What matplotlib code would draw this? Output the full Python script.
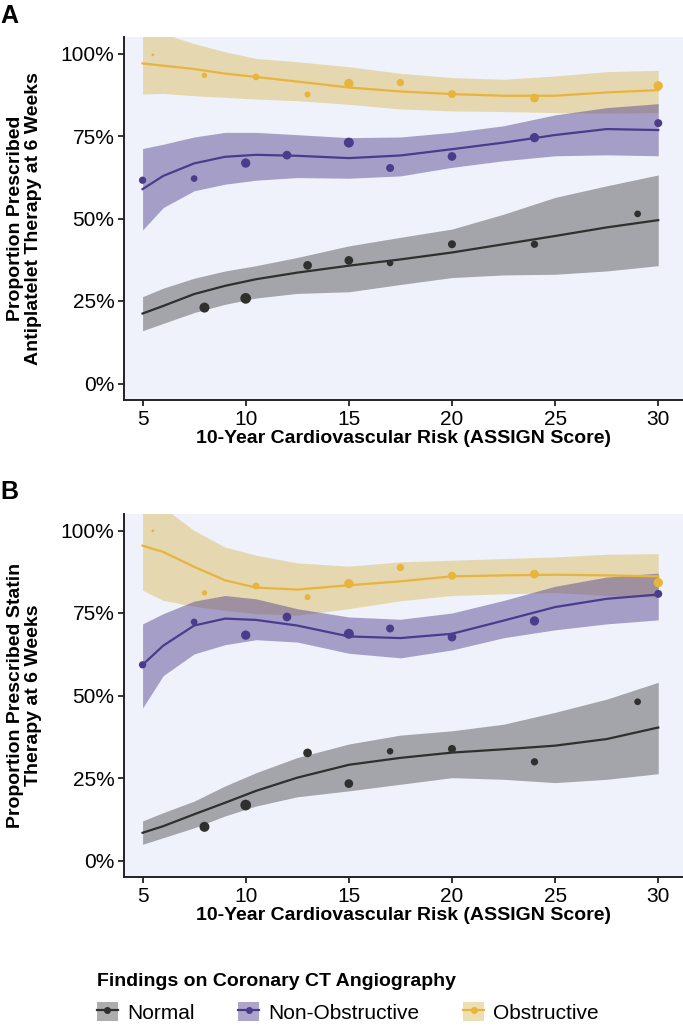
import matplotlib
matplotlib.use("Agg")
import matplotlib.pyplot as plt
from matplotlib.patches import Patch
from matplotlib.lines import Line2D
from matplotlib.ticker import PercentFormatter

plt.rcParams['font.family'] = ['Liberation Sans', 'DejaVu Sans']

# smooth-fit grid (ASSIGN score)
grid = [5, 6, 7.5, 9, 10.5, 12.5, 15, 17.5, 20, 22.5, 25, 27.5, 30]

# observed points: x positions, and marker diameters (px) per group
x_normal = [8, 10, 13, 15, 17, 20, 24, 29]
d_normal = [10, 10.7, 8.7, 8.7, 6.5, 8, 7.3, 6.7]
x_nonobs = [5, 7.5, 10, 12, 15, 17, 20, 24, 30]
d_nonobs = [7.3, 6.7, 9.3, 8.7, 10, 8, 8.7, 9.3, 8]
x_obs = [5.5, 8, 10.5, 13, 15, 17.5, 20, 24, 30]
d_obs = [2.7, 5.3, 6.7, 6, 9.3, 7.3, 8, 8.7, 9.3]

# Panel A: antiplatelet therapy
a_normal_pts = [0.230, 0.258, 0.358, 0.373, 0.365, 0.422, 0.422, 0.514]
a_normal_fit = [0.212, 0.235, 0.271, 0.296, 0.316, 0.336, 0.357, 0.376, 0.397, 0.422, 0.447, 0.473, 0.495]
a_normal_lo = [0.160, 0.182, 0.215, 0.240, 0.259, 0.273, 0.278, 0.300, 0.321, 0.329, 0.331, 0.341, 0.357]
a_normal_hi = [0.263, 0.289, 0.319, 0.341, 0.357, 0.382, 0.417, 0.443, 0.468, 0.513, 0.564, 0.599, 0.632]

a_nonobs_pts = [0.616, 0.621, 0.668, 0.692, 0.730, 0.653, 0.688, 0.745, 0.789]
a_nonobs_fit = [0.589, 0.629, 0.667, 0.687, 0.693, 0.690, 0.683, 0.691, 0.710, 0.730, 0.753, 0.771, 0.768]
a_nonobs_lo = [0.465, 0.533, 0.584, 0.604, 0.616, 0.624, 0.622, 0.629, 0.655, 0.675, 0.690, 0.693, 0.690]
a_nonobs_hi = [0.712, 0.725, 0.747, 0.761, 0.761, 0.754, 0.745, 0.747, 0.761, 0.781, 0.814, 0.836, 0.848]

a_obs_pts = [0.996, 0.934, 0.929, 0.876, 0.909, 0.912, 0.877, 0.865, 0.902]
a_obs_fit = [0.970, 0.963, 0.953, 0.939, 0.929, 0.915, 0.897, 0.885, 0.877, 0.872, 0.872, 0.882, 0.889]
a_obs_lo = [0.877, 0.879, 0.872, 0.867, 0.862, 0.857, 0.846, 0.832, 0.826, 0.824, 0.821, 0.819, 0.821]
a_obs_hi = [1.080, 1.060, 1.030, 1.005, 0.985, 0.975, 0.960, 0.940, 0.927, 0.922, 0.932, 0.945, 0.949]

# Panel B: statin therapy
b_normal_pts = [0.102, 0.168, 0.326, 0.233, 0.331, 0.338, 0.299, 0.481]
b_normal_fit = [0.084, 0.104, 0.140, 0.175, 0.211, 0.251, 0.290, 0.311, 0.327, 0.337, 0.348, 0.368, 0.403]
b_normal_lo = [0.049, 0.069, 0.099, 0.135, 0.165, 0.193, 0.211, 0.231, 0.251, 0.246, 0.236, 0.246, 0.263]
b_normal_hi = [0.120, 0.145, 0.180, 0.226, 0.266, 0.312, 0.353, 0.380, 0.393, 0.413, 0.449, 0.489, 0.540]

b_nonobs_pts = [0.593, 0.723, 0.683, 0.738, 0.687, 0.703, 0.677, 0.726, 0.808]
b_nonobs_fit = [0.593, 0.651, 0.712, 0.733, 0.729, 0.712, 0.679, 0.674, 0.687, 0.727, 0.768, 0.793, 0.806]
b_nonobs_lo = [0.462, 0.560, 0.626, 0.654, 0.669, 0.662, 0.628, 0.614, 0.638, 0.675, 0.699, 0.717, 0.729]
b_nonobs_hi = [0.717, 0.748, 0.786, 0.803, 0.793, 0.763, 0.738, 0.731, 0.750, 0.788, 0.831, 0.859, 0.871]

b_obs_pts = [0.999, 0.811, 0.832, 0.798, 0.839, 0.888, 0.863, 0.868, 0.842]
b_obs_fit = [0.954, 0.935, 0.890, 0.849, 0.827, 0.821, 0.834, 0.846, 0.861, 0.864, 0.866, 0.864, 0.861]
b_obs_lo = [0.819, 0.788, 0.770, 0.758, 0.748, 0.743, 0.763, 0.787, 0.803, 0.808, 0.812, 0.803, 0.798]
b_obs_hi = [1.120, 1.070, 1.000, 0.950, 0.925, 0.902, 0.892, 0.905, 0.910, 0.915, 0.920, 0.928, 0.930]

groups = ['Normal', 'Non-Obstructive', 'Obstructive']
line_colors = {'Normal': '#2f2f2f', 'Non-Obstructive': '#4b3b8b', 'Obstructive': '#e8b43c'}
band_colors = {'Normal': '#333333', 'Non-Obstructive': '#4b3b8b', 'Obstructive': '#dbb856'}
band_alpha = {'Normal': 0.4, 'Non-Obstructive': 0.45, 'Obstructive': 0.45}
bg = '#eff2fa'
dpi = 100


def draw_panel(ax, data, ylabel):
    ax.set_facecolor(bg)
    # ribbons first (non-obstructive lies over obstructive where they meet)
    for g in ['Normal', 'Obstructive', 'Non-Obstructive']:
        xs, d, pts, fit, lo, hi = data[g]
        ax.fill_between(grid, lo, hi, color=band_colors[g], alpha=band_alpha[g],
                        lw=0, zorder=1)
    for g in groups:
        xs, d, pts, fit, lo, hi = data[g]
        ax.plot(grid, fit, color=line_colors[g], lw=1.6, zorder=3)
        s = [(v * 72 / dpi) ** 2 for v in d]
        ax.scatter(xs, pts, s=s, color=line_colors[g], lw=0, zorder=4)
    ax.set_xlim(4.1, 31.2)
    ax.set_ylim(-0.05, 1.05)
    ax.set_xticks([5, 10, 15, 20, 25, 30])
    ax.set_yticks([0, 0.25, 0.5, 0.75, 1.0])
    ax.yaxis.set_major_formatter(PercentFormatter(1.0, decimals=0))
    for sp in ['top', 'right']:
        ax.spines[sp].set_visible(False)
    for sp in ['left', 'bottom']:
        ax.spines[sp].set_linewidth(1.4)
        ax.spines[sp].set_color('#222222')
    ax.tick_params(length=4, width=1.3, color='#222222', labelsize=15, pad=3)
    ax.set_xlabel('10-Year Cardiovascular Risk (ASSIGN Score)',
                  fontsize=14, fontweight='bold', labelpad=1)
    ax.text(-0.178, 0.5, ylabel, transform=ax.transAxes, rotation=90,
            ha='center', va='center', fontsize=14, fontweight='bold',
            linespacing=1.15)


fig = plt.figure(figsize=(6.83, 10.27), dpi=dpi)
ax1 = fig.add_axes([124 / 683, 1 - 400 / 1027, 559 / 683, 363 / 1027])
ax2 = fig.add_axes([124 / 683, 1 - 877 / 1027, 559 / 683, 363 / 1027])

data_a = {
    'Normal': (x_normal, d_normal, a_normal_pts, a_normal_fit, a_normal_lo, a_normal_hi),
    'Non-Obstructive': (x_nonobs, d_nonobs, a_nonobs_pts, a_nonobs_fit, a_nonobs_lo, a_nonobs_hi),
    'Obstructive': (x_obs, d_obs, a_obs_pts, a_obs_fit, a_obs_lo, a_obs_hi),
}
data_b = {
    'Normal': (x_normal, d_normal, b_normal_pts, b_normal_fit, b_normal_lo, b_normal_hi),
    'Non-Obstructive': (x_nonobs, d_nonobs, b_nonobs_pts, b_nonobs_fit, b_nonobs_lo, b_nonobs_hi),
    'Obstructive': (x_obs, d_obs, b_obs_pts, b_obs_fit, b_obs_lo, b_obs_hi),
}

draw_panel(ax1, data_a, 'Proportion Prescribed\nAntiplatelet Therapy at 6 Weeks')
draw_panel(ax2, data_b, 'Proportion Prescribed Statin\nTherapy at 6 Weeks')

fig.text(0.0, 1 - 16 / 1027, 'A', fontsize=18, fontweight='bold', va='center', ha='left')
fig.text(0.0, 1 - 492 / 1027, 'B', fontsize=18, fontweight='bold', va='center', ha='left')

handles = []
for g in groups:
    handles.append((Patch(facecolor=band_colors[g], alpha=band_alpha[g], lw=0),
                    Line2D([], [], color=line_colors[g], lw=1.6, marker='o', ms=4)))
leg = fig.legend(handles, groups, loc='upper left', bbox_to_anchor=(78 / 683, 1 - 954 / 1027),
                 ncol=3, frameon=False, title='Findings on Coronary CT Angiography',
                 alignment='left', prop={'size': 15},
                 handlelength=1.0, handleheight=1.0, handletextpad=0.45,
                 columnspacing=2.1, labelspacing=0.6)
leg.get_title().set_fontproperties({'size': 14, 'weight': 'bold'})

fig.savefig('out.png', dpi=dpi)
